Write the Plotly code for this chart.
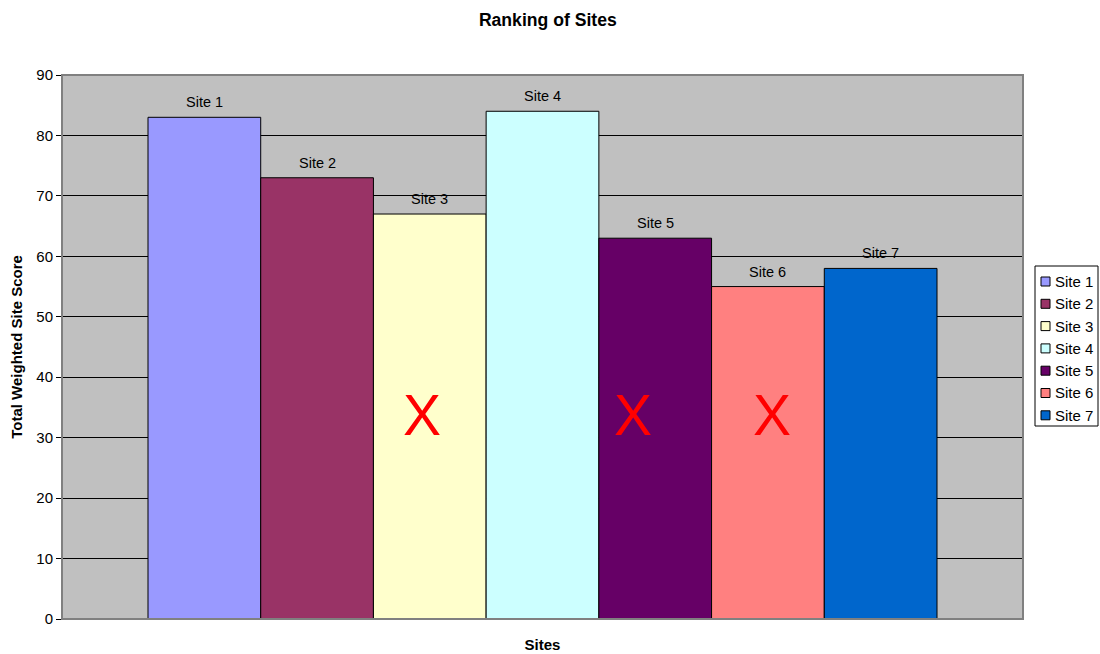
import plotly.graph_objects as go

sites = ["Site 1", "Site 2", "Site 3", "Site 4", "Site 5", "Site 6", "Site 7"]
scores = [83, 73, 67, 84, 63, 55, 58]
colors = ["#9999FF", "#993366", "#FFFFCC", "#CCFFFF", "#660066", "#FF8080", "#0066CC"]
# red crosses drawn over the eliminated sites (horizontal position in bar units)
cross_x = [1.93, 3.80, 5.04]
cross_y = 33.7

FONT = "Liberation Sans, Arial, sans-serif"

fig = go.Figure()
for i, (s, v, c) in enumerate(zip(sites, scores, colors)):
    fig.add_trace(go.Bar(
        x=[i], y=[v], name=s, width=1,
        marker=dict(color=c, line=dict(color="black", width=1)),
        showlegend=False,
    ))
    fig.add_annotation(x=i, y=v, xref="x", yref="y", text=s, showarrow=False,
                       yanchor="bottom", yshift=5,
                       font=dict(family=FONT, size=14.5, color="black"))

for xc in cross_x:
    fig.add_annotation(x=xc, y=cross_y, xref="x", yref="y", text="X",
                       showarrow=False, font=dict(family=FONT, size=57, color="red"))

# plot-area border
fig.add_shape(type="rect", xref="paper", yref="paper", x0=0, y0=0, x1=1, y1=1,
              line=dict(color="#808080", width=2), layer="above")

# legend (drawn in paper coordinates to the right of the plot area)
plot_l, plot_r, plot_t, plot_b = 62, 1023, 75, 619
pw, ph = plot_r - plot_l, plot_b - plot_t
def px(xpix):
    return (xpix - plot_l) / pw
def py(ypix):
    return (plot_b - ypix) / ph

fig.add_shape(type="rect", xref="paper", yref="paper",
              x0=px(1035), x1=px(1098), y0=py(426), y1=py(266),
              line=dict(color="black", width=1), fillcolor="white", layer="above")
for i, (s, c) in enumerate(zip(sites, colors)):
    yc = 281.5 + 22.3 * i
    fig.add_shape(type="rect", xref="paper", yref="paper",
                  x0=px(1041), x1=px(1050), y0=py(yc + 4.5), y1=py(yc - 4.5),
                  line=dict(color="black", width=1), fillcolor=c, layer="above")
    fig.add_annotation(x=px(1053), y=py(yc), xref="paper", yref="paper", text=s,
                       showarrow=False, xanchor="left", yanchor="middle",
                       font=dict(family=FONT, size=15, color="black"))

fig.update_layout(
    width=1100, height=654,
    margin=dict(l=62, r=77, t=75, b=35, autoexpand=False),
    paper_bgcolor="white", plot_bgcolor="#C0C0C0",
    barmode="overlay",
    font=dict(family=FONT, size=15, color="black"),
    title=dict(text="<b>Ranking of Sites</b>", x=0.498, xanchor="center", y=0.969, yanchor="middle",
               font=dict(family=FONT, size=17.6, color="black")),
    showlegend=False,
    xaxis=dict(range=[-1.263, 7.263], showticklabels=False, showgrid=False, zeroline=False,
               title=dict(text="<b>Sites</b>", font=dict(family=FONT, size=15), standoff=20)),
    yaxis=dict(range=[0, 90], dtick=10, showgrid=True, gridcolor="black", gridwidth=1,
               zeroline=False, showline=True, linecolor="black", linewidth=1,
               ticks="outside", ticklen=5, tickcolor="black",
               tickfont=dict(family=FONT, size=15),
               title=dict(text="<b>Total Weighted Site Score</b>", font=dict(family=FONT, size=15), standoff=10)),
)

fig.write_html("out.html")
